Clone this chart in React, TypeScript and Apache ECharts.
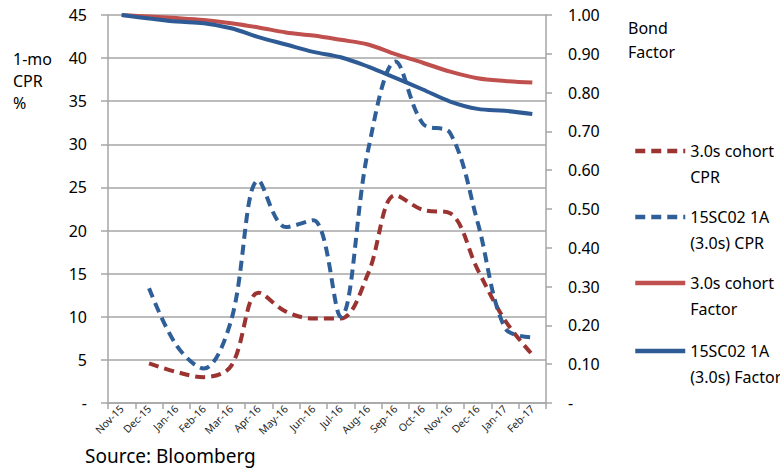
import React, { useEffect, useRef } from "react";
import * as echarts from "echarts";

// Monthly observations, Nov-15 through Feb-17
const months = [
  "Nov-15", "Dec-15", "Jan-16", "Feb-16", "Mar-16", "Apr-16", "May-16", "Jun-16",
  "Jul-16", "Aug-16", "Sep-16", "Oct-16", "Nov-16", "Dec-16", "Jan-17", "Feb-17",
];

// 1-month CPR (%)
const cohortCpr = [null, 4.6, 3.6, 3.0, 4.3, 12.8, 10.6, 9.8, 9.8, 15.0, 24.1, 22.4, 22.0, 15.5, 9.6, 5.6];
const bondCpr = [null, 13.3, 6.7, 4.0, 9.6, 25.8, 20.4, 21.2, 10.0, 29.3, 39.6, 32.4, 31.3, 21.0, 8.7, 7.6];

// Bond factor
const cohortFactor = [1.0, 0.996, 0.992, 0.987, 0.979, 0.968, 0.955, 0.947, 0.936, 0.924, 0.899, 0.877, 0.854, 0.837, 0.830, 0.826];
const bondFactor = [1.0, 0.991, 0.983, 0.979, 0.966, 0.943, 0.924, 0.905, 0.891, 0.867, 0.838, 0.808, 0.777, 0.758, 0.753, 0.745];

const seriesNames = [
  "3.0s cohort CPR",
  "15SC02 1A (3.0s) CPR",
  "3.0s cohort Factor",
  "15SC02 1A (3.0s) Factor",
];
const legendLines: Record<string, string[]> = {
  "3.0s cohort CPR": ["3.0s cohort", "CPR"],
  "15SC02 1A (3.0s) CPR": ["15SC02 1A", "(3.0s) CPR"],
  "3.0s cohort Factor": ["3.0s cohort", "Factor"],
  "15SC02 1A (3.0s) Factor": ["15SC02 1A", "(3.0s) Factor"],
};

const FONT = "'Noto Sans', 'Open Sans', sans-serif";
const GRID_COLOR = "#a6a6a6";

export default function App() {
  const ref = useRef<HTMLDivElement>(null);

  useEffect(() => {
    if (!ref.current) return;
    const chart = echarts.init(ref.current, undefined, { renderer: "svg" });

    // one legend block per series so each two-line entry sits at its own height
    const legendTops = [146, 212, 278, 346];
    const legends = seriesNames.map((name, i) => ({
      show: true,
      data: [name],
      orient: "vertical",
      left: 628,
      top: legendTops[i] - 39,
      itemWidth: 50,
      itemHeight: 14,
      itemStyle: { opacity: 0 },
      lineStyle: { width: 4.5 },
      formatter: (n: string) => "\n" + legendLines[n].join("\n"),
      textStyle: { fontFamily: FONT, fontSize: 16, color: "#000", lineHeight: 26 },
      selectedMode: false,
    }));

    chart.setOption({
      animation: false,
      textStyle: { fontFamily: FONT },
      grid: { left: 108, right: 234, top: 15, bottom: 66, containLabel: false },
      legend: legends,
      xAxis: {
        type: "category",
        data: months,
        boundaryGap: true,
        axisLine: { lineStyle: { color: GRID_COLOR, width: 1.5 } },
        axisTick: { show: true, length: 6, lineStyle: { color: GRID_COLOR, width: 1.5 } },
        axisLabel: { rotate: 45, fontSize: 10.5, color: "#262626", margin: 4, interval: 0, fontFamily: FONT },
      },
      yAxis: [
        {
          type: "value",
          min: 0,
          max: 45,
          interval: 5,
          position: "left",
          axisLine: { show: true, lineStyle: { color: GRID_COLOR, width: 1.5 } },
          axisTick: { show: true, length: 7, lineStyle: { color: GRID_COLOR, width: 1.5 } },
          splitLine: { show: true, lineStyle: { color: GRID_COLOR, width: 1.5 } },
          axisLabel: {
            fontSize: 16,
            color: "#000",
            margin: 21,
            fontFamily: FONT,
            formatter: (v: number) => (v === 0 ? "-" : String(v)),
          },
        },
        {
          type: "value",
          min: 0,
          max: 1,
          interval: 0.1,
          position: "right",
          axisLine: { show: true, lineStyle: { color: GRID_COLOR, width: 1.5 } },
          axisTick: { show: true, length: 6, lineStyle: { color: GRID_COLOR, width: 1.5 } },
          splitLine: { show: false },
          axisLabel: {
            fontSize: 16,
            color: "#000",
            margin: 22,
            fontFamily: FONT,
            formatter: (v: number) => (v === 0 ? "-" : v.toFixed(2)),
          },
        },
      ],
      series: [
        {
          name: seriesNames[0],
          type: "line",
          yAxisIndex: 0,
          data: cohortCpr,
          smooth: 0.35,
          symbol: "none",
          lineStyle: { color: "#9b3330", width: 4, type: [10, 6] },
          itemStyle: { color: "#9b3330" },
        },
        {
          name: seriesNames[1],
          type: "line",
          yAxisIndex: 0,
          data: bondCpr,
          smooth: 0.35,
          symbol: "none",
          lineStyle: { color: "#2f5f98", width: 4, type: [10, 6] },
          itemStyle: { color: "#2f5f98" },
        },
        {
          name: seriesNames[2],
          type: "line",
          yAxisIndex: 1,
          data: cohortFactor,
          smooth: 0.35,
          symbol: "none",
          lineStyle: { color: "#c0504d", width: 4 },
          itemStyle: { color: "#c0504d" },
        },
        {
          name: seriesNames[3],
          type: "line",
          yAxisIndex: 1,
          data: bondFactor,
          smooth: 0.35,
          symbol: "none",
          lineStyle: { color: "#2e5b95", width: 4 },
          itemStyle: { color: "#2e5b95" },
        },
      ],
      graphic: [
        {
          type: "text",
          left: 13,
          top: 48,
          style: { text: "1-mo\nCPR\n%", font: `16px ${FONT}`, fill: "#000", lineHeight: 22 },
        },
        {
          type: "text",
          left: 628,
          top: 16,
          style: { text: "Bond\nFactor", font: `16px ${FONT}`, fill: "#000", lineHeight: 24 },
        },
        {
          type: "text",
          left: 85,
          top: 446,
          style: { text: "Source: Bloomberg", font: `19px ${FONT}`, fill: "#000" },
        },
      ],
    });

    return () => chart.dispose();
  }, []);

  return <div ref={ref} style={{ width: 780, height: 469, position: "absolute", left: 0, top: 0 }} />;
}
